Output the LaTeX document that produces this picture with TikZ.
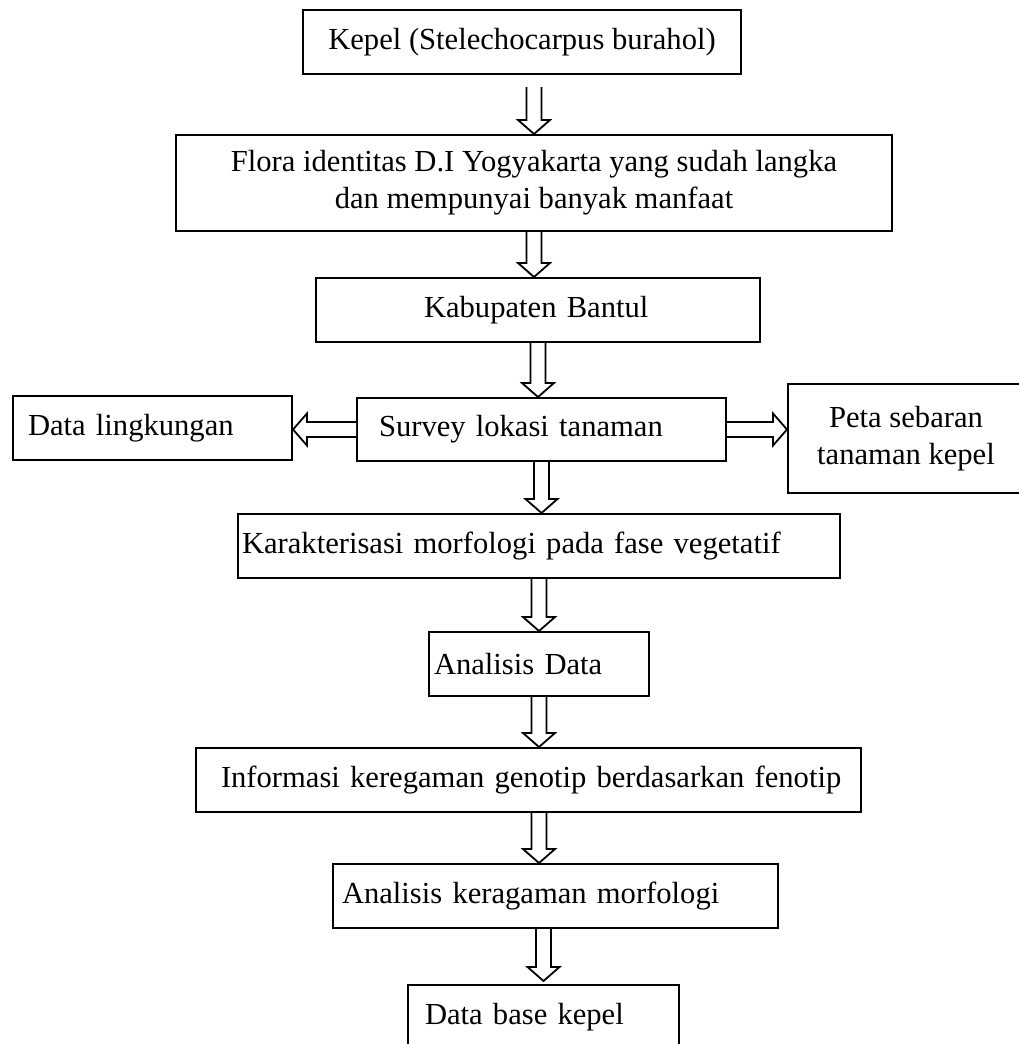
\documentclass[tikz,border=0pt]{standalone}
\usepackage{fontspec}
\setmainfont{Liberation Serif}
\usetikzlibrary{calc}
\newcommand\shaftHalf{7.5pt}
\newcommand\headHalf{16pt}
\newcommand\headLen{14pt}
\newcommand\drawDownArrow[2]{
	\draw[arrowline] let \p1=#1, \p2=#2 in
		(\x2-\shaftHalf,\y1) -- (\x2-\shaftHalf,\y2+\headLen) -- (\x2-\headHalf,\y2+\headLen) --
		(\x2,\y2) --
		(\x2+\headHalf,\y2+\headLen) -- (\x2+\shaftHalf,\y2+\headLen) -- (\x2+\shaftHalf,\y1);
}
\newcommand\drawSideArrow[3]{
	\draw[arrowline] let \p1=#1, \p2=#2, \n1={#3*\headLen} in
		(\x1,\y1+\shaftHalf) -- (\x2-\n1,\y1+\shaftHalf) -- (\x2-\n1,\y1+\headHalf) --
		(\x2,\y1) --
		(\x2-\n1,\y1-\headHalf) -- (\x2-\n1,\y1-\shaftHalf) -- (\x1,\y1-\shaftHalf);
}
\tikzset{
	flowbox/.style={draw, line width=2pt, anchor=north west, inner xsep=0pt, inner ysep=0pt,
		font=\fontsize{30.6pt}{37pt}\selectfont},
	arrowline/.style={line width=1.8pt, line join=miter, fill=white}
}
\begin{document}
\begin{tikzpicture}[x=1pt, y=1pt]
		\useasboundingbox (0,0) rectangle (1019,-1044);
		
		% main column
		\node[flowbox, minimum width=438pt, minimum height=64pt] (kepel) at (302,-9) {Kepel (Stelechocarpus burahol)};
		\node[flowbox, minimum width=716pt, minimum height=96pt, align=center] (flora) at (175,-134) {Flora identitas D.I Yogyakarta yang sudah langka\\dan mempunyai banyak manfaat};
		\node[flowbox, minimum width=444pt, minimum height=64pt, text width=228pt, align=left] (kabupaten) at (315,-277) {Kabupaten Bantul};
		\node[flowbox, minimum width=369pt, minimum height=63pt, text width=325pt, align=left] (survey) at (356,-397) {Survey lokasi tanaman};
		\node[flowbox, minimum width=602pt, minimum height=64pt, text width=594pt, align=left] (karakter) at (237,-513) {\mbox{Karakterisasi morfologi pada fase vegetatif}};
		\node[flowbox, minimum width=220pt, minimum height=64pt, text width=210pt, align=left] (analisisData) at (428,-631) {Analisis Data};
		\node[flowbox, minimum width=665pt, minimum height=64pt, text width=615pt, align=left] (informasi) at (195,-747) {\mbox{Informasi keregaman genotip berdasarkan fenotip}};
		\node[flowbox, minimum width=445pt, minimum height=64pt, text width=427pt, align=left] (keragaman) at (332,-863) {Analisis keragaman morfologi};
		\node[flowbox, minimum width=271pt, minimum height=64pt, text width=237pt, align=left] (database) at (407,-984) {Data base kepel};
		
		% side boxes
		\node[flowbox, minimum width=279pt, minimum height=64pt, text width=249pt, align=left] (lingkungan) at (12,-395) {Data lingkungan};
		\node[flowbox, minimum width=236pt, minimum height=109pt, align=center] (peta) at (787,-383) {Peta sebaran\\tanaman kepel};
		
		\drawDownArrow{([yshift=-12pt]kepel.south -| flora.north)}{(flora.north)}
		\drawDownArrow{(flora.south)}{(kabupaten.north -| flora.south)}
		\drawDownArrow{(kabupaten.south)}{(survey.north -| kabupaten.south)}
		\drawDownArrow{(survey.south)}{(karakter.north -| survey.south)}
		\drawDownArrow{(karakter.south)}{(analisisData.north -| karakter.south)}
		\drawDownArrow{(analisisData.south)}{(informasi.north -| analisisData.south)}
		\drawDownArrow{(informasi.south -| analisisData.south)}{(keragaman.north -| analisisData.south)}
		\drawDownArrow{(keragaman.south -| database.north)}{([yshift=3pt]database.north)}
		
		\drawSideArrow{(survey.west)}{(survey.west -| lingkungan.east)}{-1}
		\drawSideArrow{(survey.east)}{(survey.east -| peta.west)}{1}
	\end{tikzpicture}
\end{document}
